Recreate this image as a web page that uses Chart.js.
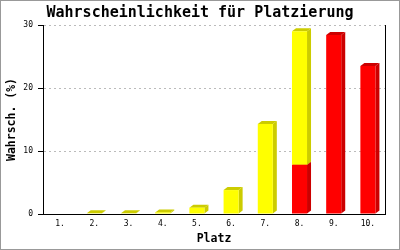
<!DOCTYPE html>
<html>
<head>
<meta charset="utf-8">
<script src="https://cdn.jsdelivr.net/npm/chart.js@4"></script>
<style>
  body { margin: 0; background: #fff; }
  canvas { display: block; }
</style>
</head>
<body>
<canvas id="platzChart" width="400" height="250"></canvas>
<script>
const platzLabels = ['1.', '2.', '3.', '4.', '5.', '6.', '7.', '8.', '9.', '10.'];
const rotWerte = [null, null, null, null, null, null, null, 7.8, 28.4, 23.5];
const gelbWerte = [null, 0.1, 0.1, 0.25, 1.0, 3.8, 14.3, 21.2, null, null];
const yTicks = [0, 10, 20, 30];

const mono = 'DejaVu Sans Mono';

// seiten- und deckflaechen fuer den 3D-effekt
const depthPlugin = {
    id: 'depth3d',
    beforeDatasetsDraw(chart) {
        const ctx = chart.ctx;
        const dx = 4, dy = 3;
        ctx.save();
        chart.data.datasets.forEach((ds, i) => {
            const meta = chart.getDatasetMeta(i);
            meta.data.forEach((bar, j) => {
                if (ds.data[j] == null || ds.data[j] === 0) return;
                const l = bar.x - bar.width / 2;
                const r = bar.x + bar.width / 2;
                const top = Math.min(bar.y, bar.base);
                const base = Math.max(bar.y, bar.base);
                ctx.fillStyle = ds.sideColor;
                ctx.beginPath();
                ctx.moveTo(r, top);
                ctx.lineTo(r + dx, top - dy);
                ctx.lineTo(r + dx, base - dy);
                ctx.lineTo(r, base);
                ctx.closePath();
                ctx.fill();
                ctx.beginPath();
                ctx.moveTo(l, top);
                ctx.lineTo(l + dx, top - dy);
                ctx.lineTo(r + dx, top - dy);
                ctx.lineTo(r, top);
                ctx.closePath();
                ctx.fill();
            });
        });
        ctx.restore();
    },
    afterDraw(chart) {
        const ctx = chart.ctx;
        ctx.save();
        ctx.strokeStyle = '#999';
        ctx.lineWidth = 1;
        ctx.strokeRect(0.5, 0.5, chart.width - 1, chart.height - 1);
        ctx.restore();
    }
};

new Chart(document.getElementById('platzChart').getContext('2d'), {
    type: 'bar',
    data: {
        labels: platzLabels,
        datasets: [{
            label: 'rot',
            data: rotWerte,
            backgroundColor: '#ff0000',
            sideColor: '#cc0000',
            borderWidth: 0
        }, {
            label: 'gelb',
            data: gelbWerte,
            backgroundColor: '#ffff00',
            sideColor: '#cccc00',
            borderWidth: 0
        }]
    },
    options: {
        responsive: false,
        animation: false,
        devicePixelRatio: 1,
        layout: { padding: 0 },
        datasets: { bar: { categoryPercentage: 1, barPercentage: 0.44 } },
        plugins: {
            legend: { display: false },
            tooltip: { enabled: false },
            title: {
                display: true,
                text: 'Wahrscheinlichkeit für Platzierung',
                color: '#000',
                font: { family: mono, size: 15, weight: 'bold', lineHeight: 1.2 },
                padding: { top: 4, bottom: 3 }
            }
        },
        scales: {
            x: {
                stacked: true,
                grid: { display: false, drawTicks: false },
                border: { display: true, color: '#000', width: 1 },
                ticks: { color: '#000', font: { family: mono, size: 8 }, padding: 5 },
                title: {
                    display: true,
                    text: 'Platz',
                    color: '#000',
                    font: { family: mono, size: 11.5, weight: 'bold', lineHeight: 1.2 },
                    padding: { top: 0, bottom: 4 }
                },
                afterFit(scale) { scale.height = 36; }
            },
            y: {
                stacked: true,
                min: 0,
                max: 30,
                afterBuildTicks(scale) { scale.ticks = yTicks.map(v => ({ value: v })); },
                grid: {
                    color: c => (c.tick && c.tick.value === 0) ? 'rgba(0,0,0,0)' : '#bbbbbb',
                    tickColor: '#000',
                    tickLength: 5,
                    lineWidth: 1
                },
                border: { display: true, color: '#000', width: 1, dash: [2, 3] },
                ticks: { color: '#000', font: { family: mono, size: 8 }, padding: 5 },
                title: {
                    display: true,
                    text: 'Wahrsch. (%)',
                    color: '#000',
                    font: { family: mono, size: 11.5, weight: 'bold', lineHeight: 1.2 },
                    padding: { top: 5, bottom: 0 }
                },
                afterFit(scale) { scale.width = 43; }
            },
            yr: {
                position: 'right',
                min: 0,
                max: 30,
                grid: { display: false, drawTicks: false },
                border: { display: true, color: '#000', width: 1 },
                ticks: { display: false },
                afterFit(scale) { scale.width = 15; }
            }
        }
    },
    plugins: [depthPlugin]
});
</script>
</body>
</html>
